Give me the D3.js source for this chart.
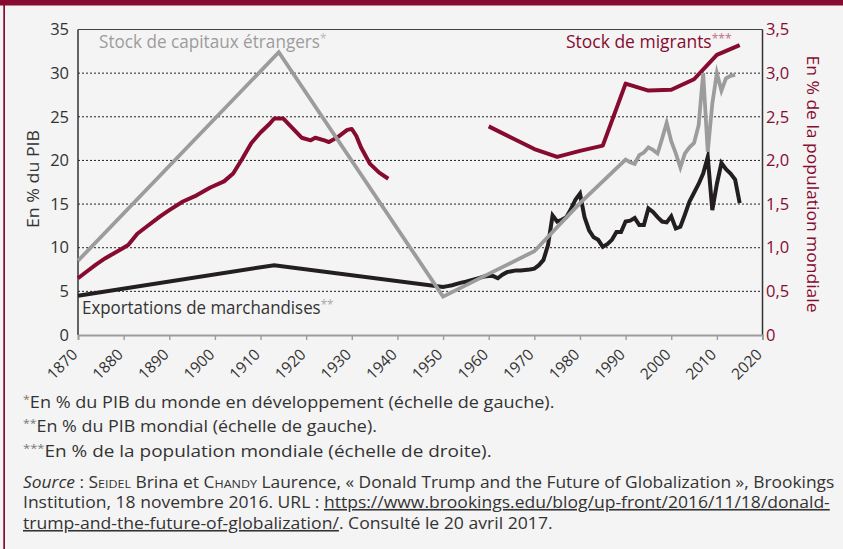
<!DOCTYPE html>
<html>
<head>
<meta charset="utf-8">
<script src="https://cdn.jsdelivr.net/npm/d3@7"></script>
<style>
  html, body { margin: 0; padding: 0; background: #f4f4f4; }
  svg { display: block; }
  text { font-family: "Open Sans", "Noto Sans", sans-serif; }
</style>
</head>
<body>
<svg id="chart" width="843" height="549"></svg>
<script>
// ---------------- DATA ----------------
const xTicks = [1870, 1880, 1890, 1900, 1910, 1920, 1930, 1940, 1950, 1960, 1970, 1980, 1990, 2000, 2010, 2020];
const leftTicks = [0, 5, 10, 15, 20, 25, 30, 35];
const rightTicks = [0, 0.5, 1.0, 1.5, 2.0, 2.5, 3.0, 3.5];
const rightTickLabels = ["0", "0,5", "1,0", "1,5", "2,0", "2,5", "3,0", "3,5"];

// Stock de capitaux étrangers (% du PIB du monde en développement, échelle de gauche)
const capYears = [1870, 1914, 1950, 1960, 1970, 1980, 1990, 1991, 1992, 1993, 1994, 1995, 1996, 1997, 1998, 1999,
  2000, 2001, 2002, 2003, 2004, 2005, 2006, 2007, 2008, 2009, 2010, 2011, 2012, 2013, 2014];
const capValues = [8.5, 32.4, 4.4, 7.0, 9.6, 15.1, 20.1, 19.8, 19.6, 20.6, 20.9, 21.5, 21.2, 20.8, 22.5, 24.3,
  22.2, 20.8, 19.2, 20.8, 21.5, 22.0, 24.0, 30.0, 21.0, 26.5, 30.0, 28.0, 29.4, 29.7, 29.8];

// Exportations de marchandises (% du PIB mondial, échelle de gauche)
const expYears = [1870, 1913, 1950, 1951, 1952, 1953, 1954, 1955, 1956, 1957, 1958, 1959,
  1960, 1961, 1962, 1963, 1964, 1965, 1966, 1967, 1968, 1969,
  1970, 1971, 1972, 1973, 1974, 1975, 1976, 1977, 1978, 1979,
  1980, 1981, 1982, 1983, 1984, 1985, 1986, 1987, 1988, 1989,
  1990, 1991, 1992, 1993, 1994, 1995, 1996, 1997, 1998, 1999,
  2000, 2001, 2002, 2003, 2004, 2005, 2006, 2007, 2008, 2009,
  2010, 2011, 2012, 2013, 2014, 2015];
const expValues = [4.5, 8.0, 5.5, 5.6, 5.7, 5.85, 6.0, 6.1, 6.25, 6.4, 6.55, 6.7,
  6.75, 6.75, 6.5, 6.9, 7.2, 7.3, 7.4, 7.4, 7.45, 7.5,
  7.6, 8.0, 8.6, 10.3, 13.7, 13.0, 13.2, 13.5, 14.4, 15.5,
  16.2, 13.5, 12.0, 11.2, 10.9, 10.1, 10.4, 10.9, 11.8, 11.8,
  13.0, 13.1, 13.4, 12.6, 12.6, 14.5, 14.1, 13.5, 13.0, 12.9,
  13.6, 12.2, 12.4, 13.8, 15.3, 16.3, 17.3, 18.5, 20.4, 14.3,
  17.3, 19.7, 19.0, 18.5, 17.8, 15.1];

// Stock de migrants (% de la population mondiale, échelle de droite) ; null = rupture de série
const migYears = [1870, 1872, 1874, 1876, 1878, 1880, 1881, 1883, 1885, 1888, 1890, 1893, 1896, 1899,
  1902, 1904, 1906, 1908, 1910, 1912, 1913, 1915, 1917, 1919, 1921, 1922, 1924, 1925, 1927, 1929,
  1930, 1931, 1932, 1934, 1936, 1938, 1950,
  1960, 1965, 1970, 1975, 1980, 1985, 1990, 1995, 2000, 2005, 2010, 2015];
const migValues = [0.65, 0.73, 0.81, 0.88, 0.94, 1.00, 1.03, 1.16, 1.24, 1.36, 1.43, 1.53, 1.60, 1.69,
  1.76, 1.85, 2.02, 2.20, 2.32, 2.42, 2.48, 2.48, 2.37, 2.26, 2.23, 2.26, 2.23, 2.21, 2.27, 2.35,
  2.36, 2.28, 2.15, 1.96, 1.86, 1.79, null,
  2.39, 2.26, 2.13, 2.04, 2.11, 2.17, 2.88, 2.80, 2.81, 2.93, 3.21, 3.32];

const footnotes = [
  "En % du PIB du monde en développement (échelle de gauche).",
  "En % du PIB mondial (échelle de gauche).",
  "En % de la population mondiale (échelle de droite)."
];

// ---------------- STYLE ----------------
const CRIMSON = "#870b2f";
const GRAY = "#9c9c9c";
const BLACK = "#231f20";
const TEXT = "#333333";

const svg = d3.select("#chart");
svg.append("rect").attr("x", 0).attr("y", 0).attr("width", 843).attr("height", 549).attr("fill", "#f4f4f4");
svg.append("rect").attr("x", 0).attr("y", 0).attr("width", 843).attr("height", 5.5).attr("fill", CRIMSON);
svg.append("rect").attr("x", 3.3).attr("y", 0).attr("width", 1.7).attr("height", 549).attr("fill", CRIMSON);

const x = d3.scaleLinear().domain([1870, 2020]).range([78, 762.5]);
const yL = d3.scaleLinear().domain([0, 35]).range([335, 29.5]);
const yR = d3.scaleLinear().domain([0, 3.5]).range([335, 29.5]);

// gridlines
svg.append("g").selectAll("line").data(leftTicks.filter(d => d > 0 && d < 35)).join("line")
  .attr("x1", x(1870)).attr("x2", x(2020))
  .attr("y1", d => yL(d)).attr("y2", d => yL(d))
  .attr("stroke", "#222").attr("stroke-width", 1).attr("stroke-dasharray", "2,2");

// frame lines
svg.append("line").attr("x1", x(1870)).attr("x2", x(2020)).attr("y1", yL(35)).attr("y2", yL(35))
  .attr("stroke", "#444").attr("stroke-width", 1.2);
svg.append("line").attr("x1", x(1870)).attr("x2", x(1870)).attr("y1", yL(35)).attr("y2", yL(0))
  .attr("stroke", "#333").attr("stroke-width", 1.5);
svg.append("line").attr("x1", x(2020)).attr("x2", x(2020)).attr("y1", yL(35)).attr("y2", yL(0))
  .attr("stroke", "#333").attr("stroke-width", 1.5);

// bottom axis
const xAxis = svg.append("g").attr("transform", `translate(0,${yL(0)})`)
  .call(d3.axisBottom(x).tickValues(xTicks).tickSize(5).tickFormat(""));
xAxis.select(".domain").attr("stroke", GRAY).attr("stroke-width", 1.8);
xAxis.selectAll(".tick line").attr("stroke", GRAY).attr("stroke-width", 1.4);

svg.append("g").selectAll("text").data(xTicks).join("text")
  .attr("transform", d => `translate(${x(d) + 0.5},355.5) rotate(-45)`)
  .attr("text-anchor", "end")
  .attr("font-size", 15.5)
  .attr("fill", TEXT)
  .text(d => d);

// left tick labels
svg.append("g").selectAll("text").data(leftTicks).join("text")
  .attr("x", 69).attr("y", d => yL(d)).attr("dy", "0.35em")
  .attr("text-anchor", "end").attr("font-size", 16.5).attr("fill", TEXT)
  .text(d => d);

// right tick labels
svg.append("g").selectAll("text").data(rightTicks).join("text")
  .attr("x", 766).attr("y", d => yR(d)).attr("dy", "0.35em")
  .attr("text-anchor", "start").attr("font-size", 16.5).attr("fill", CRIMSON)
  .text((d, i) => rightTickLabels[i]);

// axis titles
svg.append("text")
  .attr("transform", "translate(39,179) rotate(-90)")
  .attr("text-anchor", "middle").attr("font-size", 17).attr("fill", TEXT)
  .attr("textLength", 98).attr("lengthAdjust", "spacingAndGlyphs")
  .text("En % du PIB");
svg.append("text")
  .attr("transform", "translate(807,184) rotate(90)")
  .attr("text-anchor", "middle").attr("font-size", 17).attr("fill", CRIMSON)
  .attr("textLength", 257).attr("lengthAdjust", "spacingAndGlyphs")
  .text("En % de la population mondiale");

// lines
const lineL = d3.line().defined(d => d[1] != null).x(d => x(d[0])).y(d => yL(d[1]));
const lineR = d3.line().defined(d => d[1] != null).x(d => x(d[0])).y(d => yR(d[1]));

svg.append("path").datum(expYears.map((yr, i) => [yr, expValues[i]]))
  .attr("d", lineL).attr("fill", "none").attr("stroke", BLACK).attr("stroke-width", 4)
  .attr("stroke-linejoin", "miter").attr("stroke-miterlimit", 6);
svg.append("path").datum(migYears.map((yr, i) => [yr, migValues[i]]))
  .attr("d", lineR).attr("fill", "none").attr("stroke", CRIMSON).attr("stroke-width", 4)
  .attr("stroke-linejoin", "round");
svg.append("path").datum(capYears.map((yr, i) => [yr, capValues[i]]))
  .attr("d", lineL).attr("fill", "none").attr("stroke", GRAY).attr("stroke-width", 3.8)
  .attr("stroke-linejoin", "miter").attr("stroke-miterlimit", 6);

// fitting helper
function fitted(x0, y0, width, build) {
  const g = svg.append("g");
  const t = g.append("text");
  build(t);
  const w = t.node().getBBox().width || width;
  g.attr("transform", `translate(${x0},${y0}) scale(${width / w},1)`);
  return t;
}

// series labels
fitted(99, 48, 228, t => {
  t.attr("font-size", 17.5).attr("fill", GRAY);
  t.append("tspan").text("Stock de capitaux étrangers");
  t.append("tspan").attr("font-size", 12).attr("dy", -5).attr("fill", "#bbbbbb").text("*");
});
fitted(566, 48, 166, t => {
  t.attr("font-size", 17.5).attr("fill", CRIMSON);
  t.append("tspan").text("Stock de migrants");
  t.append("tspan").attr("font-size", 12).attr("dy", -5).attr("fill", "#c2718a").text("***");
});
fitted(82, 314, 252, t => {
  t.attr("font-size", 17.5).attr("fill", TEXT);
  t.append("tspan").text("Exportations de marchandises");
  t.append("tspan").attr("font-size", 12).attr("dy", -5).attr("fill", "#aaaaaa").text("**");
});

// footnotes
const stars = ["*", "**", "***"];
const fnBase = [408, 432, 457];
const fnWidth = [532, 354, 469];
footnotes.forEach((txt, i) => {
  fitted(23, fnBase[i], fnWidth[i], t => {
    t.attr("font-size", 16).attr("fill", TEXT);
    t.append("tspan").attr("font-size", 11).attr("dy", -5).attr("fill", "#777").text(stars[i]);
    t.append("tspan").attr("dy", 5).text(txt);
  });
});

// source
fitted(23, 488, 809, t => {
  t.attr("font-size", 16).attr("fill", TEXT);
  t.append("tspan").attr("font-style", "italic").text("Source");
  t.append("tspan").text(" : ");
  t.append("tspan").style("font-variant", "small-caps").text("Seidel");
  t.append("tspan").text(" Brina et ");
  t.append("tspan").style("font-variant", "small-caps").text("Chandy");
  t.append("tspan").text(" Laurence, « Donald Trump and the Future of Globalization », Brookings");
});
fitted(23, 508, 807, t => {
  t.attr("font-size", 16).attr("fill", TEXT);
  t.append("tspan").text("Institution, 18 novembre 2016. URL : ");
  t.append("tspan").style("text-decoration", "underline").text("https://www.brookings.edu/blog/up-front/2016/11/18/donald-");
});
fitted(23, 529, 530, t => {
  t.attr("font-size", 16).attr("fill", TEXT);
  t.append("tspan").style("text-decoration", "underline").text("trump-and-the-future-of-globalization/");
  t.append("tspan").text(". Consulté le 20 avril 2017.");
});
</script>
</body>
</html>
